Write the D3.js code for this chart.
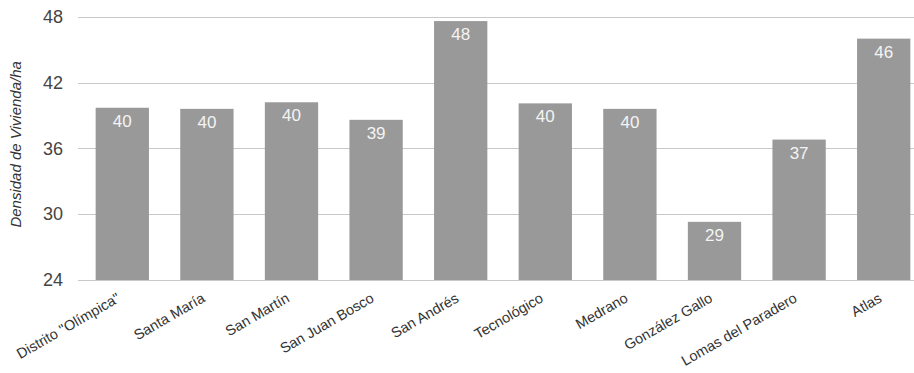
<!DOCTYPE html>
<html>
<head>
<meta charset="utf-8">
<script src="https://cdn.jsdelivr.net/npm/d3@7"></script>
<style>
  html, body { margin: 0; padding: 0; background: #fff; }
  svg { display: block; font-family: Arial, "Liberation Sans", sans-serif; }
</style>
</head>
<body>
<svg id="chart" width="914" height="373"></svg>
<script>
const categories = ["Distrito \"Olímpica\"", "Santa María", "San Martín", "San Juan Bosco", "San Andrés", "Tecnológico", "Medrano", "González Gallo", "Lomas del Paradero", "Atlas"];
const values = [39.7, 39.6, 40.2, 38.6, 47.6, 40.1, 39.6, 29.3, 36.8, 46.0];
const yTicks = [24, 30, 36, 42, 48];
const yTitle = "Densidad de Vivienda/ha";

const svg = d3.select("#chart");
const W = 914, H = 373;
const mLeft = 78, mTop = 16.7, mBottom = 280;

const x = d3.scaleBand().domain(categories).range([80, 926]).paddingInner(0.37).paddingOuter(0.185);
const y = d3.scaleLinear().domain([24, 48]).range([mBottom, mTop]);

// gridlines
svg.append("g").selectAll("line").data(yTicks).join("line")
  .attr("x1", mLeft).attr("x2", W)
  .attr("y1", d => Math.round(y(d)) + 0.5).attr("y2", d => Math.round(y(d)) + 0.5)
  .attr("stroke", "#c8c8c8").attr("stroke-width", 1);

// y tick labels
svg.append("g").selectAll("text").data(yTicks).join("text")
  .attr("x", 63).attr("y", d => y(d))
  .attr("dy", "0.35em").attr("text-anchor", "end")
  .attr("font-size", 18).attr("fill", "#444")
  .text(d => d);

// bars
svg.append("g").selectAll("rect").data(values).join("rect")
  .attr("x", (d, i) => x(categories[i]))
  .attr("width", x.bandwidth())
  .attr("y", d => y(d))
  .attr("height", d => mBottom - y(d))
  .attr("fill", "#999999");

// value labels
svg.append("g").selectAll("text").data(values).join("text")
  .attr("x", (d, i) => x(categories[i]) + x.bandwidth() / 2)
  .attr("y", d => y(d) + 19)
  .attr("text-anchor", "middle")
  .attr("font-size", 17).attr("fill", "#f4f4f4")
  .text(d => Math.round(d));

// x labels
svg.append("g").selectAll("text").data(categories).join("text")
  .attr("transform", d => `translate(${x(d) + x.bandwidth() / 2 - 1},${mBottom + 21}) rotate(-30)`)
  .attr("text-anchor", "end")
  .attr("font-size", 14.5).attr("fill", "#333")
  .text(d => d);

// y title
svg.append("text")
  .attr("transform", `translate(21,${(mTop + mBottom) / 2 - 4}) rotate(-90)`)
  .attr("text-anchor", "middle")
  .attr("font-size", 15).attr("font-style", "italic").attr("fill", "#333")
  .text(yTitle);
</script>
</body>
</html>
